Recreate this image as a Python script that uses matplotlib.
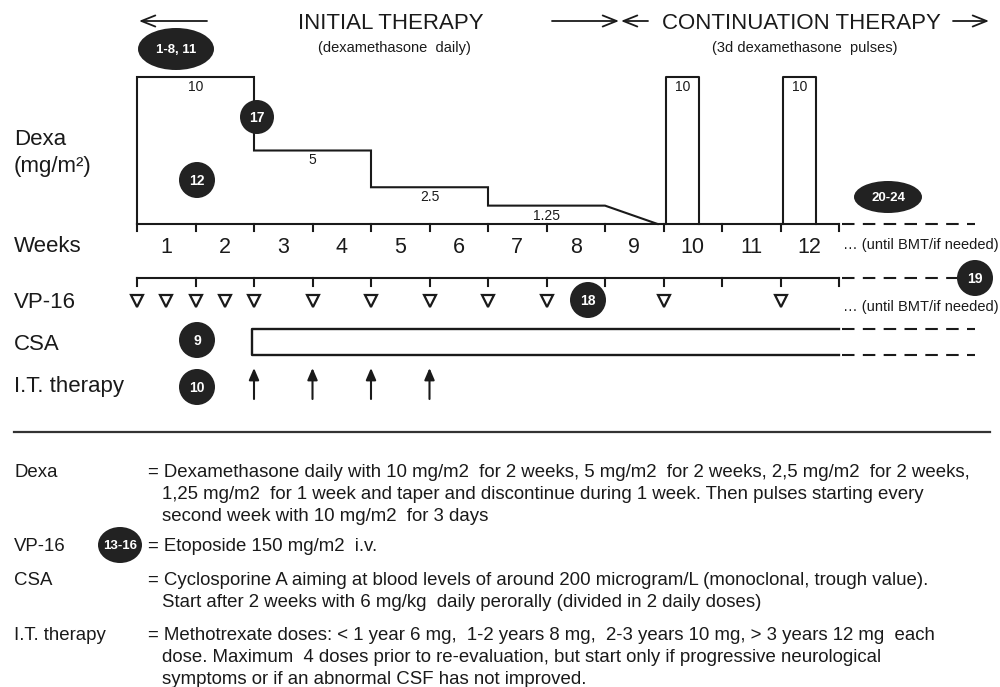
import matplotlib
matplotlib.use("Agg")
import matplotlib.pyplot as plt
from matplotlib.patches import Ellipse

plt.rcParams['font.family'] = ['Liberation Sans', 'DejaVu Sans']

# ---- protocol data (weeks, mg/m2) ----
weeks = list(range(1, 13))
dexa_doses = [10, 5, 2.5, 1.25]
dexa_dose_labels = ["10", "5", "2.5", "1.25"]
dexa_step_end = [2, 4, 6, 8]          # week at which each dose level ends
dexa_taper_end = 8.9                  # taper to zero
pulse_start = [9.05, 11.05]           # continuation pulses
pulse_len = 0.55
pulse_dose = 10
vp16_weeks = [0, 0.5, 1, 1.5, 2, 3, 4, 5, 6, 7, 9, 11]
it_weeks = [2, 3, 4, 5]
csa_start = 1.97
n_weeks = 12

# reference bubbles: label, x, y, width, height (pixels)
bubbles = [
    ("1-8, 11", 176, 49, 76, 42),
    ("17", 257, 117, 34, 34),
    ("12", 197, 180, 36, 36),
    ("20-24", 888, 197, 68, 32),
    ("19", 975, 278, 36, 36),
    ("18", 588, 300, 36, 36),
    ("9", 197, 340, 36, 36),
    ("10", 197, 387, 36, 36),
    ("13-16", 120, 545, 44, 36),
]

row_labels = ["Dexa", "(mg/m²)", "Weeks", "VP-16", "CSA", "I.T. therapy"]
row_label_base = [145, 172, 252, 308, 350, 392]

desc_labels = ["Dexa", "VP-16", "CSA", "I.T. therapy"]
desc_text = [
    ["= Dexamethasone daily with 10 mg/m2  for 2 weeks, 5 mg/m2  for 2 weeks, 2,5 mg/m2  for 2 weeks,",
     "1,25 mg/m2  for 1 week and taper and discontinue during 1 week. Then pulses starting every",
     "second week with 10 mg/m2  for 3 days"],
    ["= Etoposide 150 mg/m2  i.v."],
    ["= Cyclosporine A aiming at blood levels of around 200 microgram/L (monoclonal, trough value).",
     "Start after 2 weeks with 6 mg/kg  daily perorally (divided in 2 daily doses)"],
    ["= Methotrexate doses: < 1 year 6 mg,  1-2 years 8 mg,  2-3 years 10 mg, > 3 years 12 mg  each",
     "dose. Maximum  4 doses prior to re-evaluation, but start only if progressive neurological",
     "symptoms or if an abnormal CSF has not improved."],
]
desc_base = [477, 551, 585, 640]

# ---- layout ----
X0, WK = 137, 58.5          # pixel of week 0, pixels per week
Y0, DY = 224, 14.7          # dexa baseline, pixels per mg/m2
VP_Y, CSA_T, CSA_B = 278, 329, 355
K = "#1a1a1a"


def wx(w):
    return X0 + WK * w


def dy(d):
    return Y0 - DY * d


fig = plt.figure(figsize=(10, 6.87), dpi=100)
ax = fig.add_axes([0, 0, 1, 1])
ax.set_xlim(0, 1000)
ax.set_ylim(687, 0)
ax.axis("off")

# header
ax.text(391, 29, "INITIAL THERAPY", fontsize=16, ha="center", va="baseline", color=K)
ax.text(394, 52, "(dexamethasone  daily)", fontsize=10.5, ha="center", va="baseline", color=K)
ax.text(801, 29, "CONTINUATION THERAPY", fontsize=16, ha="center", va="baseline", color=K)
ax.text(805, 52, "(3d dexamethasone  pulses)", fontsize=10.5, ha="center", va="baseline", color=K)
arr = dict(arrowstyle="->,head_length=1.0,head_width=0.4", lw=1.3, color=K, shrinkA=0, shrinkB=0)
for x1, x2 in [(207, 139), (552, 619), (648, 621), (953, 989)]:
    ax.annotate("", xy=(x2, 21), xytext=(x1, 21), arrowprops=arr)

# dexa profile: daily dose steps, then taper
px = [0, 0]
py = [0, dexa_doses[0]]
for i, (d, e) in enumerate(zip(dexa_doses, dexa_step_end)):
    px.append(e)
    py.append(d)
    if i + 1 < len(dexa_doses):
        px.append(e)
        py.append(dexa_doses[i + 1])
px.append(dexa_taper_end)
py.append(0)
ax.plot([wx(v) for v in px], [dy(v) for v in py], color=K, lw=1.5, solid_joinstyle="miter")
starts = [0] + dexa_step_end[:-1]
for s, e, d, lab in zip(starts, dexa_step_end, dexa_doses, dexa_dose_labels):
    ax.text((wx(s) + wx(e)) / 2, dy(d) + 14, lab, fontsize=10, ha="center", va="baseline", color=K)
for p in pulse_start:
    ax.plot([wx(p), wx(p), wx(p + pulse_len), wx(p + pulse_len)],
            [Y0, dy(pulse_dose), dy(pulse_dose), Y0], color=K, lw=1.5)
    ax.text(wx(p + pulse_len / 2), dy(pulse_dose) + 14, str(pulse_dose), fontsize=10,
            ha="center", va="baseline", color=K)

# week axis
ax.plot([wx(0), wx(n_weeks)], [Y0, Y0], color=K, lw=1.5)
for w in range(n_weeks + 1):
    ax.plot([wx(w), wx(w)], [Y0, Y0 + 7], color=K, lw=1.5)
for w in weeks:
    ax.text(wx(w - 0.5), 253, str(w), fontsize=15.5, ha="center", va="baseline", color=K)
ax.text(843, 249, "… (until BMT/if needed)", fontsize=10.5, ha="left", va="baseline", color=K)

# VP-16 axis
ax.plot([wx(0), wx(n_weeks)], [VP_Y, VP_Y], color=K, lw=1.5)
for w in range(n_weeks + 1):
    ax.plot([wx(w), wx(w)], [VP_Y, VP_Y + 8], color=K, lw=1.5)
ax.plot([wx(w) for w in vp16_weeks], [301] * len(vp16_weeks), ls="none", marker="v",
        ms=9, mfc="white", mec=K, mew=1.6)
ax.text(843, 311, "… (until BMT/if needed)", fontsize=10.5, ha="left", va="baseline", color=K)

# CSA
ax.plot([wx(n_weeks), wx(csa_start), wx(csa_start), wx(n_weeks)],
        [CSA_T, CSA_T, CSA_B, CSA_B], color=K, lw=1.7)

# dashed continuations
dash = dict(color=K, lw=1.5, ls=(0, (6, 4)))
ax.plot([wx(n_weeks) + 3, 975], [Y0, Y0], **dash)
ax.plot([wx(n_weeks) + 3, 957], [VP_Y, VP_Y], **dash)
ax.plot([wx(n_weeks) + 3, 975], [CSA_T, CSA_T], **dash)
ax.plot([wx(n_weeks) + 3, 975], [CSA_B, CSA_B], **dash)

# I.T. therapy arrows
for w in it_weeks:
    ax.annotate("", xy=(wx(w), 368), xytext=(wx(w), 399),
                arrowprops=dict(arrowstyle="-|>,head_length=0.7,head_width=0.3",
                                lw=1.5, color=K, shrinkA=0, shrinkB=0))

# row labels
for lab, y in zip(row_labels, row_label_base):
    ax.text(14, y, lab, fontsize=16, ha="left", va="baseline", color=K)

# bubbles
for lab, x, y, w, h in bubbles:
    ax.add_patch(Ellipse((x, y), w, h, facecolor="#222222", edgecolor="none", zorder=5))
    ax.text(x, y + 1, lab, fontsize=9.5 if len(lab) > 2 else 10, fontweight="bold",
            color="white", ha="center", va="center", zorder=6)

# divider
ax.plot([14, 990], [432, 432], color="#333333", lw=1.6)

# description block
for lab, lines, y in zip(desc_labels, desc_text, desc_base):
    ax.text(14, y, lab, fontsize=13.4, ha="left", va="baseline", color=K)
    for i, line in enumerate(lines):
        ax.text(148 if i == 0 else 162, y + 22 * i, line, fontsize=13.4,
                ha="left", va="baseline", color=K)

fig.savefig("out.png", dpi=100)
